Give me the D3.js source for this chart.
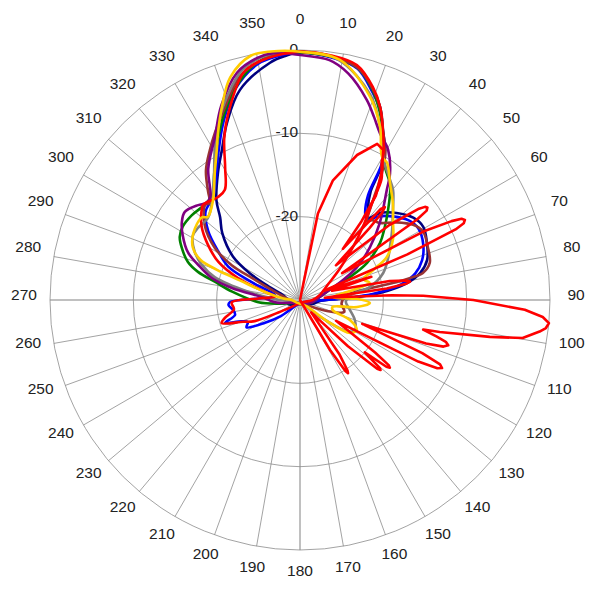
<!DOCTYPE html>
<html lang="en">
<head>
    <meta charset="UTF-8">
    <title>Polar Pattern</title>
    <script src="https://d3js.org/d3.v7.min.js"></script>
    <style>
        body { margin: 0; background-color: white; }
        svg { display: block; }
        .ring { fill: none; stroke: #8c8c8c; stroke-width: 0.8; }
        .spoke { stroke: #8c8c8c; stroke-width: 0.8; }
        .spoke.axis { stroke: #c0c0c0; stroke-width: 2; }
        .lbl { font-family: "Liberation Sans", Arial, sans-serif; font-size: 15.5px; fill: #222; }
        .trace { fill: none; stroke-width: 2.6; stroke-linejoin: round; }
    </style>
</head>
<body>
    <svg id="chart"></svg>

    <script>
        const width = 600, height = 600;
        const cx = 300, cy = 300, R = 250;

        // tick labels
        const angleTicks = d3.range(0, 360, 10);
        const ringTicks = [0, -10, -20];

        // [angle (deg, clockwise from top), level dB]
        const navy = [[0,-0.2],[2,-0.3],[8,-0.6],[13.7,-1.2],[19.2,-3.3],[22.5,-4.9],[26,-7.3],[29,-9.0],[31,-10.5],[32,-12.5],[33,-14.4],[37,-16.5],[39.7,-17.2],[42.6,-15.8],[48,-14.4],[54,-13.2],[59.3,-12.8],[65.8,-13.3],[72.5,-14.0],[77.3,-15.2],[81,-17.0],[85,-20.4],[87.7,-24],[92,-27.5],[110,-28.5],[150,-29.5],[200,-29.5],[250,-28.5],[270,-28.5],[285,-28],[293,-26.1],[298,-23.2],[303,-20.4],[310.7,-17.7],[316,-16.2],[320,-14.4],[327,-11.9],[332.5,-9.7],[337.6,-7.0],[344,-3.8],[352.8,-1.3],[357,-0.6]];
        const blue = [[0,-0.3],[8,-0.7],[14,-1.4],[19,-3.5],[23,-5.3],[26,-7.5],[29,-9.3],[31,-11],[33,-15],[37,-17],[40,-17.5],[43,-16.3],[48,-15],[54,-13.8],[59,-13.4],[66,-13.8],[72,-14.6],[77,-15.8],[81,-17.6],[85,-21],[88,-25],[92,-28],[120,-29.5],[200,-29.5],[230,-27],[237,-25],[243,-22.8],[247,-23.2],[250,-22.5],[253,-20.6],[257,-22],[261.5,-21.9],[266,-21.4],[268.4,-21.6],[272,-25],[280,-27],[290,-24],[295,-20.5],[301,-18.5],[307,-16.2],[313,-14.5],[320,-13.8],[325,-12.4],[331,-9.8],[337,-6.6],[343,-3.5],[350,-1.2],[356,-0.5]];
        const green = [[0,-0.3],[8,-0.6],[14,-1.3],[19,-3.3],[23,-5.5],[27,-8],[31,-10.3],[33,-11.2],[37.6,-12.3],[39.3,-12.9],[44.4,-14.9],[50,-16.8],[54.5,-18.2],[61,-20.8],[65.3,-23.4],[70,-26],[80,-27.5],[100,-28.5],[150,-29.5],[230,-29.5],[260,-27.5],[267,-25],[277,-21.8],[282,-19.6],[285.4,-17.3],[288.7,-15.8],[293.8,-14.5],[297.7,-13.7],[302,-13.4],[308,-13.5],[314,-13.8],[320,-13.6],[326,-11.6],[332,-8.8],[338,-5.8],[344,-3.0],[350,-1.0],[356,-0.3]];
        const brown = [[0,-0.2],[7,-0.5],[14,-1.3],[19,-3.2],[23,-5.2],[26.5,-7.6],[30,-9.5],[33,-12],[36,-15],[40.7,-17.6],[42,-17.1],[46,-16.7],[51,-15.2],[56.4,-13.7],[61,-13.1],[67.5,-13.4],[74,-13.8],[77.6,-14.9],[78.7,-16.5],[79.6,-18.7],[81,-22.3],[85,-24.5],[95,-25],[105,-24.5],[112,-26.5],[130,-29],[200,-29.5],[260,-29],[275,-28.5],[288,-26.9],[294.6,-23.7],[297,-20.8],[301.5,-18.0],[308,-15.5],[315,-13.9],[317,-14.1],[320,-12.8],[324,-10.8],[329,-9.0],[333,-7.5],[338,-5.5],[345,-2.2],[352,-0.7],[357,-0.2]];
        const gray = [[0,-0.2],[9,-0.8],[19,-4.0],[25,-7.2],[29,-9.6],[32,-10.8],[36,-11.8],[40.2,-12.7],[46,-14.5],[52.7,-16.1],[58,-17.2],[64,-18.2],[72,-19.5],[79.5,-21.5],[85,-24],[92,-24.5],[100,-24],[110,-23],[118,-22.5],[123,-23],[130,-27],[150,-29.5],[230,-29.5],[265,-28.5],[272,-27],[279,-23.7],[285,-19.4],[289.7,-17.5],[294.6,-16.1],[301,-15],[305,-15],[311.7,-15.2],[318,-14.2],[325,-12],[330,-9.5],[334,-7.2],[340,-4.2],[346,-1.5],[353,-0.3]];
        const purple = [[0,-0.6],[7,-1.0],[12,-2.2],[18.5,-4.7],[22,-6.3],[25.6,-7.8],[30.4,-9.1],[35.3,-11.3],[38.3,-13.2],[46,-16.7],[53,-19.5],[60,-22.1],[65,-24.3],[70,-26],[80,-27.5],[100,-28.5],[150,-29.5],[230,-29.5],[262,-27.5],[268,-26.5],[273,-25.8],[280,-21.7],[284,-19.1],[289,-17.1],[293,-15.4],[299,-13.9],[303.5,-13.0],[307.4,-12.6],[313,-13.3],[316,-13.8],[319,-13.6],[325,-10.8],[332.5,-7.9],[338,-4.8],[344.5,-1.7],[350,-0.5],[353.8,-0.2]];
        const red = [[0,-0.2],[7,-0.4],[13.6,-1.0],[18.9,-3.0],[22.5,-4.9],[26.4,-7.6],[29,-9.3],[31,-11],[34,-12.5],[36.6,-15.5],[40,-18],[45,-21],[52,-24],[60,-26],[75,-27.5],[90,-28.5],[120,-29.5],[200,-29.5],[240,-27],[245,-24],[249,-22.7],[253.6,-20.2],[256.5,-20.7],[262,-22],[268,-21.8],[272,-25],[278,-27],[283,-25.7],[289.5,-22.1],[295,-19.2],[301,-17.1],[307,-15.2],[313,-13.9],[314.4,-13.7],[321.5,-14.2],[325.7,-14.0],[330.6,-11.7],[335,-8.5],[340,-5.4],[346,-1.9],[350,-1.0],[356,-0.4]];
        const yellow = [[0,-0.2],[9.5,-0.8],[19,-4.2],[24.8,-7.1],[29.8,-10.2],[32.4,-10.5],[37.6,-12.3],[43.8,-13.9],[50.4,-15.5],[57,-16.7],[63.7,-18.4],[67.7,-20.5],[72,-22],[76,-21.4],[80,-24],[85,-26],[89,-23],[92.5,-21.6],[97,-23.1],[102,-26],[107,-25.9],[112,-23.5],[117.8,-22.3],[123.4,-22.8],[128,-26],[135,-29],[230,-29.5],[270,-29],[275,-28],[282,-26],[288,-22.4],[290,-19.4],[292,-17.1],[296,-15.7],[302,-14.9],[310,-14.6],[312,-15.1],[319,-14.1],[326,-11.7],[331,-9.4],[333.8,-7.7],[338,-5.0],[342.6,-2.0],[348.6,-0.1],[355,0]];
        const redLobes = [[0,-30],[9,-30],[11.7,-19.4],[15.4,-15.1],[21.5,-11.3],[26.3,-9.1],[29,-9.4],[32.2,-11.5],[36,-14.5],[38,-18],[40,-22],[41.6,-15.4],[42.4,-14.9],[43.2,-15.6],[44,-18],[46,-24],[50,-16],[52.5,-12],[53.3,-11.3],[54,-11.1],[54.8,-11.4],[55.5,-13],[57.5,-24],[59,-22],[61,-13],[62.5,-9.5],[63.3,-8.3],[64.1,-8.0],[64.9,-8.3],[65.6,-9.5],[67,-16],[69,-27],[72,-21],[74,-26],[78,-19],[79.6,-17.1],[80.5,-16.6],[81.3,-17.1],[82.5,-19.5],[85,-27],[87,-19],[88,-15.2],[90,-9.2],[92.5,-3],[94,-0.8],[95.3,0],[96.5,-0.3],[97.5,-1],[99.7,-2.9],[101,-6.8],[102.9,-12.8],[103.5,-14.8],[105,-13],[106,-11.8],[107,-11.4],[108,-11.9],[109,-14],[111,-22],[113.5,-14],[114.7,-11.5],[115.6,-11.1],[116.4,-11.6],[117.5,-14],[120,-25],[125,-19],[126.3,-16.8],[127,-16.5],[127.7,-16.9],[129,-20],[130.4,-17.4],[131,-17.2],[131.7,-17.6],[134,-22],[138,-28],[144,-22],[146,-19.8],[146.7,-19.5],[147.4,-19.9],[149,-23],[152,-30],[300,-30]];

        const series = [
            { name: "navy", color: "#000080", data: navy, curve: d3.curveCatmullRomClosed },
            { name: "blue", color: "#0000ff", data: blue, curve: d3.curveCatmullRomClosed },
            { name: "green", color: "#008000", data: green, curve: d3.curveCatmullRomClosed },
            { name: "brown", color: "#993333", data: brown, curve: d3.curveCatmullRomClosed },
            { name: "gray", color: "#808080", data: gray, curve: d3.curveCatmullRomClosed },
            { name: "purple", color: "#800080", data: purple, curve: d3.curveCatmullRomClosed },
            { name: "red", color: "#ff0000", data: red, curve: d3.curveCatmullRomClosed },
            { name: "yellow", color: "#ffcc00", data: yellow, curve: d3.curveCatmullRomClosed },
            { name: "redLobes", color: "#ff0000", data: redLobes, curve: d3.curveLinearClosed }
        ];

        const svg = d3.select("#chart").attr("width", width).attr("height", height);
        const g = svg.append("g").attr("transform", `translate(${cx},${cy})`);

        const r = d3.scaleLinear().domain([-30, 0]).range([0, R]).clamp(true);
        const rad = d => d * Math.PI / 180;

        // spokes
        g.selectAll(".spoke")
            .data(angleTicks)
            .enter().append("line")
            .attr("class", d => d % 90 === 0 ? "spoke axis" : "spoke")
            .attr("x1", 0).attr("y1", 0)
            .attr("x2", d => R * Math.sin(rad(d)))
            .attr("y2", d => -R * Math.cos(rad(d)));
        // bring the main axes on top of the thin spokes
        g.selectAll(".spoke.axis").raise();

        // rings
        g.selectAll(".ring")
            .data(ringTicks)
            .enter().append("circle")
            .attr("class", "ring")
            .attr("r", d => r(d));

        // ring labels
        g.selectAll(".rlbl")
            .data(ringTicks)
            .enter().append("text")
            .attr("class", "lbl")
            .attr("x", -2)
            .attr("y", d => -r(d))
            .attr("text-anchor", "end")
            .attr("dominant-baseline", "middle")
            .text(d => d);

        // angle labels
        const labelR = 276;
        g.selectAll(".albl")
            .data(angleTicks)
            .enter().append("text")
            .attr("class", "lbl")
            .attr("x", d => labelR * Math.sin(rad(d)))
            .attr("y", d => -labelR * Math.cos(rad(d)) - 4)
            .attr("text-anchor", "middle")
            .attr("dominant-baseline", "middle")
            .text(d => d);

        // traces
        series.forEach(s => {
            const line = d3.lineRadial()
                .angle(d => rad(d[0]))
                .radius(d => r(d[1]))
                .curve(s.curve);
            g.append("path")
                .attr("class", "trace")
                .attr("stroke", s.color)
                .attr("d", line(s.data));
        });
    </script>
</body>
</html>
